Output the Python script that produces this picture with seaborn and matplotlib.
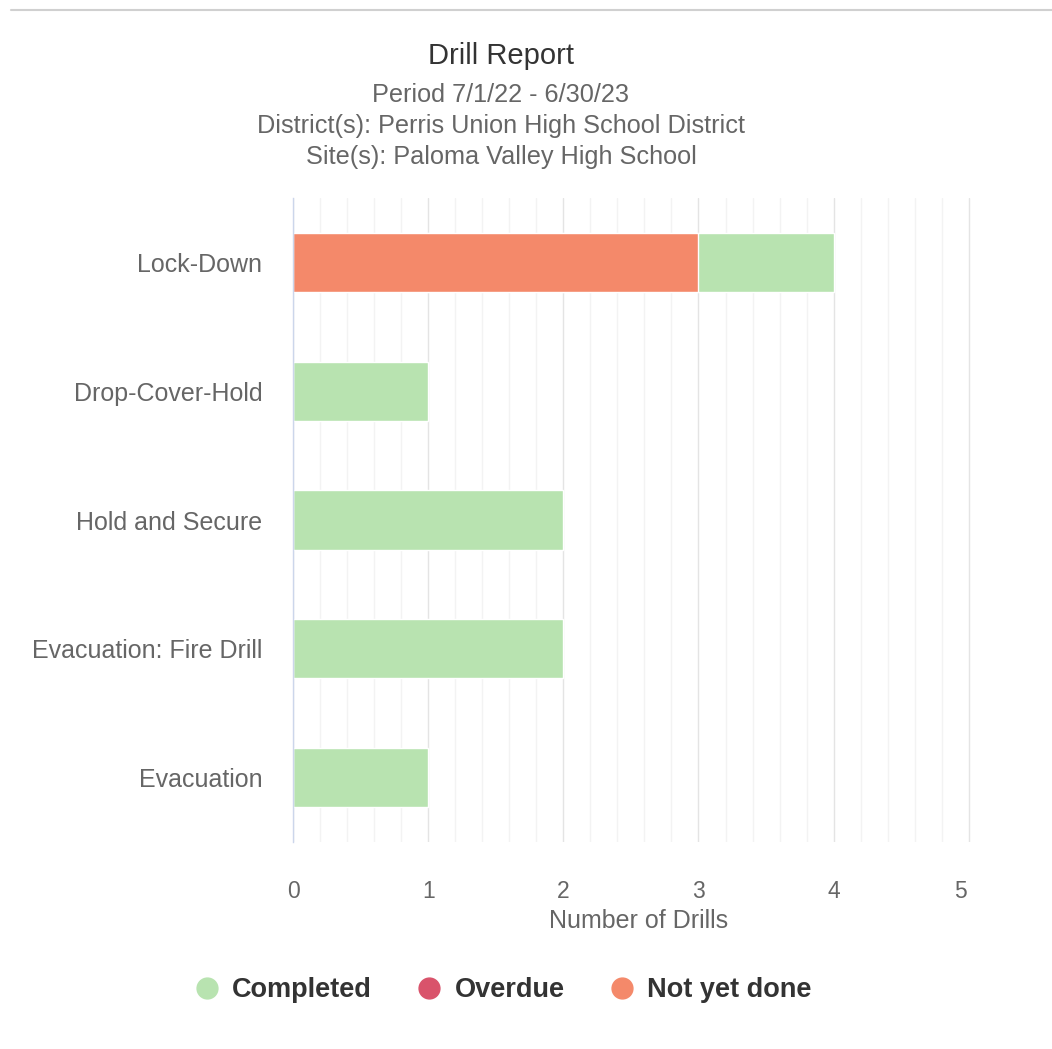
import matplotlib
matplotlib.use("Agg")
import matplotlib.pyplot as plt
import matplotlib.transforms as mtransforms
import seaborn as sns
import pandas as pd
import numpy as np
from matplotlib.ticker import MultipleLocator
from matplotlib.lines import Line2D

categories = ["Lock-Down", "Drop-Cover-Hold", "Hold and Secure", "Evacuation: Fire Drill", "Evacuation"]
not_yet_done = [3, 0, 0, 0, 0]
completed = [1, 1, 2, 2, 1]
overdue = [0, 0, 0, 0, 0]
series_names = ["Completed", "Overdue", "Not yet done"]
series_colors = ["#b8e3b0", "#d9536b", "#f4896a"]

sns.set_theme(style="white")
plt.rcParams['font.family'] = ['Liberation Sans', 'DejaVu Sans']

fig = plt.figure(figsize=(10.52, 10.49), dpi=100)
ax = fig.add_axes([293/1052, 1 - 842/1049, (985-293)/1052, (842-198)/1049])

df = pd.DataFrame({"category": categories, "nyd": not_yet_done,
                   "total": [a + b for a, b in zip(not_yet_done, completed)]})

sns.barplot(data=df, y="category", x="total", color=series_colors[0], width=0.46,
            ax=ax, orient="h", linewidth=0, zorder=3, saturation=1)
sns.barplot(data=df, y="category", x="nyd", color=series_colors[2], width=0.46,
            ax=ax, orient="h", linewidth=0, zorder=4, saturation=1)
for p in ax.patches:
    p.set_edgecolor("white")
    p.set_linewidth(1.0)

ax.set_xlim(0, 5.12)
ax.xaxis.set_major_locator(MultipleLocator(1))
ax.xaxis.set_minor_locator(MultipleLocator(0.2))
ax.grid(axis="x", which="major", color="#e4e4e4", linewidth=1.0, zorder=0)
ax.grid(axis="x", which="minor", color="#f3f3f3", linewidth=1.0, zorder=0)
ax.set_axisbelow(True)
for s in ["top", "right", "bottom"]:
    ax.spines[s].set_visible(False)
ax.spines["left"].set_color("#ccd6eb")
ax.spines["left"].set_linewidth(1.0)
ax.spines["left"].set_zorder(5)

ax.tick_params(axis="y", length=0, pad=22, labelsize=18, labelcolor="#666666")
ax.tick_params(axis="x", length=0, pad=27, labelsize=16.5, labelcolor="#666666")
ax.set_ylabel("")
ax.set_xlabel("Number of Drills", fontsize=18, color="#666666", labelpad=5)

fig.canvas.draw()
xt = ax.get_xticklabels()
last = [t for t in xt if t.get_text() == "5"]
for t in last:
    t.set_transform(t.get_transform() + mtransforms.ScaledTranslation(-8/100, 0, fig.dpi_scale_trans))

cx = 501/1052
fig.text(cx, 1 - 56/1049, "Drill Report", ha="center", va="center", fontsize=21, color="#333333")
fig.text(cx, 1 - 95/1049, "Period 7/1/22 - 6/30/23", ha="center", va="center", fontsize=18.2, color="#666666")
fig.text(cx, 1 - 126/1049, "District(s): Perris Union High School District", ha="center", va="center", fontsize=18.2, color="#666666")
fig.text(cx, 1 - 157/1049, "Site(s): Paloma Valley High School", ha="center", va="center", fontsize=18.2, color="#666666")

handles = [Line2D([0], [0], marker="o", linestyle="", markersize=15, markerfacecolor=c,
                  markeredgecolor=c) for c in series_colors]
leg = fig.legend(handles, series_names, loc="center", bbox_to_anchor=(cx, 1 - 990/1049),
                 ncol=3, frameon=False, fontsize=19.5, handletextpad=0.35, columnspacing=1.5,
                 handlelength=1.2)
for t in leg.get_texts():
    t.set_color("#333333")
    t.set_fontweight("bold")

fig.add_artist(Line2D([0.01, 1.0], [1 - 10/1049, 1 - 10/1049], color="#d0d0d0", linewidth=1.5))

fig.savefig("out.png", dpi=100, facecolor="white")
